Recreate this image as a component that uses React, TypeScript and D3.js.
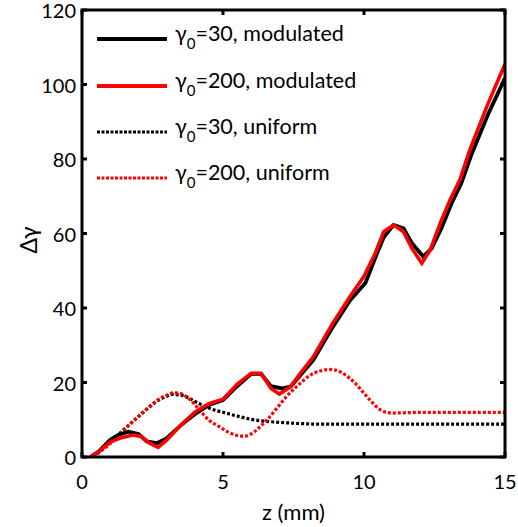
import React from "react";
import * as d3 from "d3";

const W = 518;
const H = 527;
const M = { left: 82, right: 505, top: 10, bottom: 457 };

const xTicks = [0, 5, 10, 15];
const yTicks = [0, 20, 40, 60, 80, 100, 120];

// γ0=30, modulated (black solid)
const zMod30 = [0.3, 0.6, 1.0, 1.3, 1.65, 2.0, 2.3, 2.65, 3.0, 3.5, 4.0, 4.5, 5.0, 5.5, 6.0, 6.35, 6.7, 7.1, 7.4, 7.75, 8.2, 8.9, 9.5, 10.05, 10.4, 10.7, 11.05, 11.4, 11.7, 12.1, 12.4, 12.75, 13.1, 13.45, 13.8, 14.4, 15.0];
const vMod30 = [0, 1.5, 4.6, 6.0, 6.8, 6.2, 4.2, 3.7, 5.0, 8.5, 11.5, 14.0, 15.3, 19.0, 22.3, 22.3, 19.0, 18.4, 18.9, 22.0, 26.0, 35, 42, 46.7, 53.5, 59, 62.3, 61.4, 57.4, 53.8, 56, 61.5, 68, 73.5, 81, 92, 101.7];

// γ0=200, modulated (red solid)
const zMod200 = [0.3, 0.6, 1.0, 1.4, 1.8, 2.1, 2.4, 2.7, 3.0, 3.5, 4.0, 4.5, 5.0, 5.5, 6.0, 6.35, 6.7, 7.0, 7.4, 7.75, 8.2, 8.9, 9.5, 10.0, 10.4, 10.7, 11.05, 11.4, 11.7, 12.05, 12.35, 12.7, 13.05, 13.4, 13.75, 14.35, 15.0];
const vMod200 = [0, 1.5, 4.0, 5.2, 5.9, 5.5, 3.7, 2.6, 4.5, 8.5, 12.0, 14.3, 15.5, 19.5, 22.5, 22.5, 18.4, 16.9, 18.9, 22.5, 26.9, 36, 43, 48.5, 54.7, 60.5, 62.3, 60.5, 56, 52, 55.6, 62.7, 69, 74.4, 82.4, 94, 105.5];

// γ0=30, uniform (black dotted)
const zUni30 = [0.4, 0.6, 1.0, 1.4, 1.8, 2.1, 2.4, 2.7, 3.0, 3.2, 3.5, 3.8, 4.1, 4.4, 4.7, 5.0, 5.5, 6.0, 6.5, 7.0, 7.7, 8.5, 10, 12, 15];
const vUni30 = [0, 1.4, 4.0, 6.8, 9.5, 11.5, 13.5, 15.2, 16.3, 16.8, 16.6, 15.8, 14.5, 13.5, 12.6, 12.0, 11.0, 10.1, 9.6, 9.3, 9.0, 8.8, 8.8, 8.8, 8.8];

// γ0=200, uniform (red dotted)
const zUni200 = [0.4, 0.6, 1.0, 1.4, 1.8, 2.1, 2.4, 2.7, 3.0, 3.25, 3.5, 3.8, 4.1, 4.5, 4.9, 5.2, 5.5, 5.75, 6.0, 6.3, 6.55, 6.9, 7.25, 7.7, 8.1, 8.45, 8.8, 9.15, 9.5, 9.75, 10.0, 10.25, 10.5, 10.75, 11.0, 11.5, 12, 13, 15];
const vUni200 = [0, 1.2, 3.6, 6.6, 9.5, 11.6, 13.6, 15.4, 16.6, 17.2, 17.0, 15.6, 13.2, 9.9, 8.0, 6.6, 5.8, 5.6, 6.2, 8.0, 9.9, 13, 16.2, 19.5, 22, 23.1, 23.5, 22.9, 21.1, 19.3, 17.1, 15.0, 13.1, 12.1, 11.8, 11.9, 12.0, 12.0, 12.0];

const legendGammas = ["30", "200", "30", "200"];
const legendTypes = ["modulated", "modulated", "uniform", "uniform"];

const FONT = "Lato, 'Open Sans', sans-serif";

export default function App() {
  const x = d3.scaleLinear().domain([0, 15]).range([M.left, M.right]);
  const y = d3.scaleLinear().domain([0, 120]).range([M.bottom, M.top]);

  const solid = d3.line<[number, number]>().x(d => x(d[0])).y(d => y(d[1])).curve(d3.curveLinear);
  const smooth = d3.line<[number, number]>().x(d => x(d[0])).y(d => y(d[1])).curve(d3.curveMonotoneX);
  const pts = (zs: number[], vs: number[]) => zs.map((z, i) => [z, vs[i]] as [number, number]);

  const series = [
    { d: smooth(pts(zUni30, vUni30)), color: "#000", dash: "3,2", w: 3.2 },
    { d: smooth(pts(zUni200, vUni200)), color: "#ff0000", dash: "3,2", w: 3.2 },
    { d: solid(pts(zMod30, vMod30)), color: "#000", dash: null, w: 3.8 },
    { d: solid(pts(zMod200, vMod200)), color: "#ff0000", dash: null, w: 3.6 },
  ];

  const legendStyles = [
    { color: "#000", dash: null, w: 3.8 },
    { color: "#ff0000", dash: null, w: 3.8 },
    { color: "#000", dash: "3,1.5", w: 3.2 },
    { color: "#ff0000", dash: "3,1.5", w: 3.2 },
  ];
  const legendY = [39, 86, 132, 178];

  const tickLen = 5;

  return (
    <svg width={W} height={H} style={{ position: "absolute", left: 0, top: 0, background: "#fff" }} fontFamily={FONT}>
      <defs>
        <clipPath id="plotclip">
          <rect x={M.left} y={M.top} width={M.right - M.left} height={M.bottom - M.top} />
        </clipPath>
      </defs>
      <rect x={0} y={0} width={W} height={H} fill="#fff" />

      <g clipPath="url(#plotclip)">
        {series.map((s, i) => (
          <path key={i} d={s.d || ""} fill="none" stroke={s.color} strokeWidth={s.w}
            strokeDasharray={s.dash || undefined} strokeLinejoin="miter" />
        ))}
      </g>

      {/* ticks */}
      {xTicks.map(t => (
        <g key={"xt" + t}>
          <line x1={x(t)} x2={x(t)} y1={M.bottom} y2={M.bottom - tickLen} stroke="#000" strokeWidth={3} />
          <line x1={x(t)} x2={x(t)} y1={M.top} y2={M.top + tickLen} stroke="#000" strokeWidth={3} />
          <text x={x(t)} y={489} textAnchor="middle" fontSize={20} fill="#000">{t}</text>
        </g>
      ))}
      {yTicks.map(t => (
        <g key={"yt" + t}>
          <line x1={M.left} x2={M.left + tickLen} y1={y(t)} y2={y(t)} stroke="#000" strokeWidth={3} />
          <line x1={M.right} x2={M.right - tickLen} y1={y(t)} y2={y(t)} stroke="#000" strokeWidth={3} />
          <text x={76} y={y(t) + 8} textAnchor="end" fontSize={20} fill="#000">{t}</text>
        </g>
      ))}

      <rect x={M.left} y={M.top} width={M.right - M.left} height={M.bottom - M.top} fill="none" stroke="#000" strokeWidth={3} />

      <text x={(M.left + M.right) / 2} y={520} textAnchor="middle" fontSize={22} fill="#000">z (mm)</text>
      <text transform={`translate(37,240) rotate(-90)`} textAnchor="middle" fontSize={23} fill="#000">Δγ</text>

      {/* legend */}
      {legendStyles.map((s, i) => (
        <g key={"lg" + i}>
          <line x1={97} x2={167} y1={legendY[i]} y2={legendY[i]} stroke={s.color} strokeWidth={s.w}
            strokeDasharray={s.dash || undefined} />
          <text x={175} y={legendY[i] + 2} fontSize={21.5} fill="#000">
            γ<tspan fontSize={15} dy={8}>0</tspan><tspan dy={-8}>={legendGammas[i]}, {legendTypes[i]}</tspan>
          </text>
        </g>
      ))}
    </svg>
  );
}
